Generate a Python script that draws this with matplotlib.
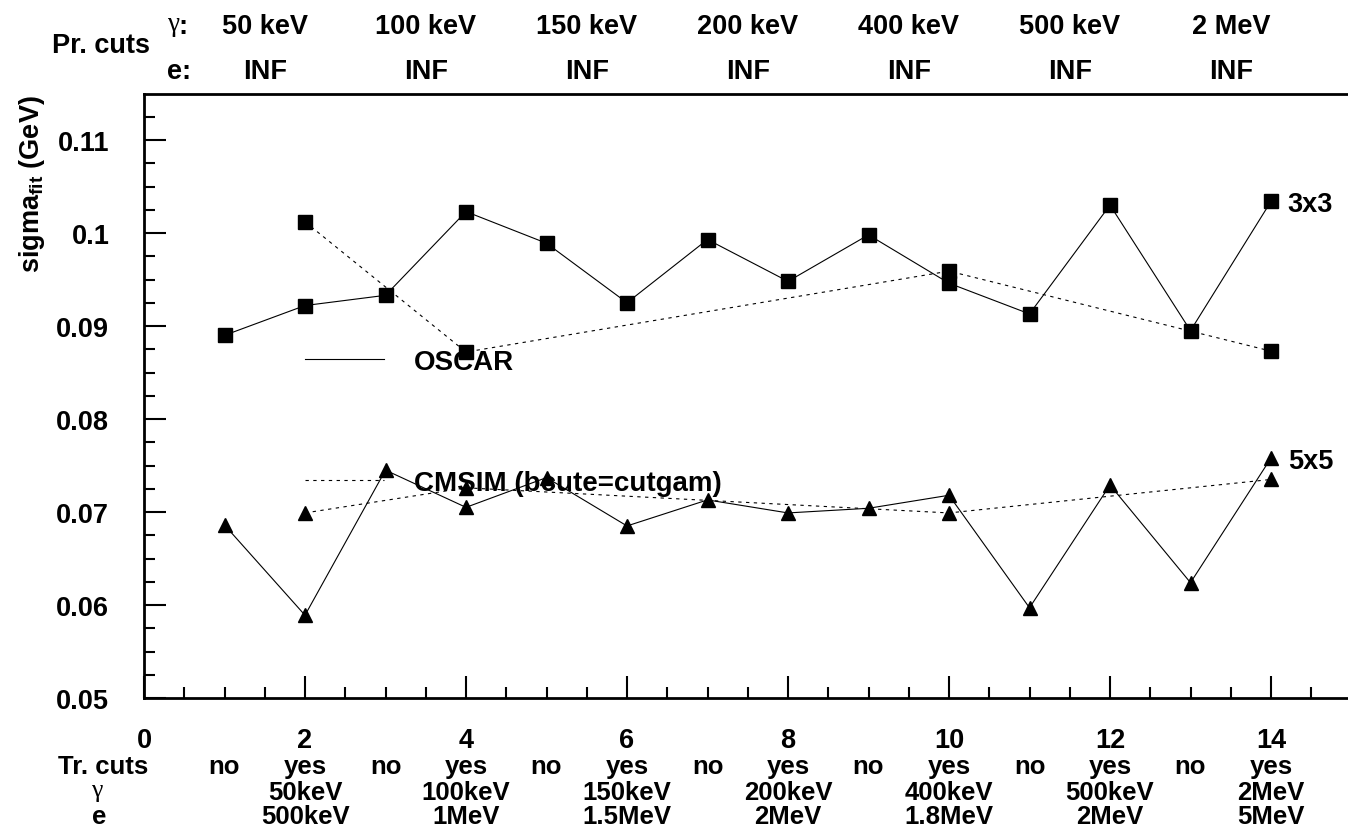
import numpy as np
import matplotlib
matplotlib.use("Agg")
import matplotlib.pyplot as plt
import matplotlib.transforms as mtransforms
from matplotlib.ticker import MultipleLocator, FormatStrFormatter
from matplotlib.lines import Line2D

plt.rcParams['font.family'] = ['Liberation Sans', 'DejaVu Sans']
plt.rcParams['font.weight'] = 'bold'
plt.rcParams['mathtext.fontset'] = 'custom'
plt.rcParams['mathtext.rm'] = 'Liberation Sans:bold'
plt.rcParams['mathtext.bf'] = 'Liberation Sans:bold'
plt.rcParams['mathtext.it'] = 'Liberation Sans:bold'

# data
x_all = [1, 2, 3, 4, 5, 6, 7, 8, 9, 10, 11, 12, 13, 14]
x_yes = [2, 4, 10, 14]

oscar_3x3 = [0.0890, 0.0922, 0.0933, 0.1023, 0.0989, 0.0925, 0.0993,
             0.0948, 0.0998, 0.0946, 0.0913, 0.1030, 0.0895, 0.1034]
cmsim_3x3 = [0.1012, 0.0872, 0.0959, 0.0873]

oscar_5x5 = [0.0686, 0.0589, 0.0745, 0.0705, 0.0737, 0.0685, 0.0713,
             0.0699, 0.0704, 0.0718, 0.0597, 0.0729, 0.0624, 0.0758]
cmsim_5x5 = [0.0699, 0.0726, 0.0699, 0.0735]

# production cuts (top) and tracking cuts (bottom)
pr_gamma = ['50 keV', '100 keV', '150 keV', '200 keV', '400 keV', '500 keV', '2 MeV']
pr_e = ['INF', 'INF', 'INF', 'INF', 'INF', 'INF', 'INF']
tr_cuts = ['no', 'yes'] * 7
tr_gamma = ['50keV', '100keV', '150keV', '200keV', '400keV', '500keV', '2MeV']
tr_e = ['500keV', '1MeV', '1.5MeV', '2MeV', '1.8MeV', '2MeV', '5MeV']

fs = 19.5
fb = 18.5   # bottom rows are packed tighter
W, H = 1348, 837

fig = plt.figure(figsize=(W / 100, H / 100), dpi=100)
ax = fig.add_axes([144 / W, 1 - 699 / H, 15 * 80.5 / W, 604 / H])

dots = (0, (3, 4))
ax.plot(x_all, oscar_3x3, color='k', lw=0.8, marker='s', ms=10)
ax.plot(x_yes, cmsim_3x3, color='k', lw=0.8, ls=dots, marker='s', ms=10)
ax.plot(x_all, oscar_5x5, color='k', lw=0.8, marker='^', ms=10)
ax.plot(x_yes, cmsim_5x5, color='k', lw=0.8, ls=dots, marker='^', ms=10)

ax.set_xlim(0, 15)
ax.set_ylim(0.05, 0.05 + 604 / 9300)

ax.xaxis.set_major_locator(MultipleLocator(2))
ax.xaxis.set_minor_locator(MultipleLocator(0.5))
ax.yaxis.set_major_locator(MultipleLocator(0.01))
ax.yaxis.set_minor_locator(MultipleLocator(0.0025))
ax.yaxis.set_major_formatter(FormatStrFormatter('%g'))
ax.tick_params(which='both', direction='in', top=False, right=False, width=1.5)
ax.tick_params(which='major', length=16)
ax.tick_params(which='minor', length=8)
ax.tick_params(axis='y', which='major', pad=25, labelsize=fs)
ax.tick_params(axis='x', which='major', pad=21, labelsize=fs)
for s in ['left', 'top', 'bottom']:
    ax.spines[s].set_linewidth(2)
ax.spines['right'].set_visible(False)

ax.set_ylabel(r'sigma$_{\mathrm{fit}}$ (GeV)', fontsize=fs, fontweight='bold', loc='top')
ax.yaxis.set_label_coords(-0.080, 1.0)

ax.annotate('3x3', xy=(x_all[-1], oscar_3x3[-1]), xytext=(12, -2),
            textcoords='offset points', va='center', fontsize=fs)
ax.annotate('5x5', xy=(x_all[-1], oscar_5x5[-1]), xytext=(12, -2),
            textcoords='offset points', va='center', fontsize=fs)

handles = [Line2D([], [], color='k', lw=0.8),
           Line2D([], [], color='k', lw=0.8, ls=dots)]
ax.legend(handles, ['OSCAR', 'CMSIM (bcute=cutgam)'], loc='upper left',
          bbox_to_anchor=(0.1333, 0.578), frameon=False, fontsize=20,
          handlelength=2.86, handletextpad=1.07, labelspacing=3.42,
          borderpad=0, borderaxespad=0)

# header and footer rows
trans = mtransforms.blended_transform_factory(ax.transData, fig.transFigure)
fig.text(101 / W, 1 - 53 / H, 'Pr. cuts', ha='center', va='baseline', fontsize=fs)
fig.text(167 / W, 1 - 31 / H, 'γ', ha='left', va='baseline', fontsize=fs,
         family='Liberation Serif', weight='normal')
fig.text(178 / W, 1 - 34 / H, ':', ha='left', va='baseline', fontsize=fs)
fig.text(167 / W, 1 - 79 / H, 'e:', ha='left', va='baseline', fontsize=fs)
for xp, g, e in zip(np.arange(1.5, 14, 2), pr_gamma, pr_e):
    ax.text(xp, 1 - 34 / H, g, transform=trans, ha='center', va='baseline', fontsize=fs)
    ax.text(xp, 1 - 79 / H, e, transform=trans, ha='center', va='baseline', fontsize=fs)

fig.text(103 / W, 1 - 774 / H, 'Tr. cuts', ha='center', va='baseline', fontsize=fb)
fig.text(97 / W, 1 - 797 / H, 'γ', ha='center', va='baseline', fontsize=fb,
         family='Liberation Serif', weight='normal')
fig.text(99 / W, 1 - 824 / H, 'e', ha='center', va='baseline', fontsize=fb)
for xp, t in zip(x_all, tr_cuts):
    ax.text(xp, 1 - 774 / H, t, transform=trans, ha='center', va='baseline', fontsize=fb)
for xp, g, e in zip(x_yes[:1] + list(range(4, 15, 2)), tr_gamma, tr_e):
    ax.text(xp, 1 - 800 / H, g, transform=trans, ha='center', va='baseline', fontsize=fb)
    ax.text(xp, 1 - 824 / H, e, transform=trans, ha='center', va='baseline', fontsize=fb)

fig.savefig('out.png', dpi=100)
